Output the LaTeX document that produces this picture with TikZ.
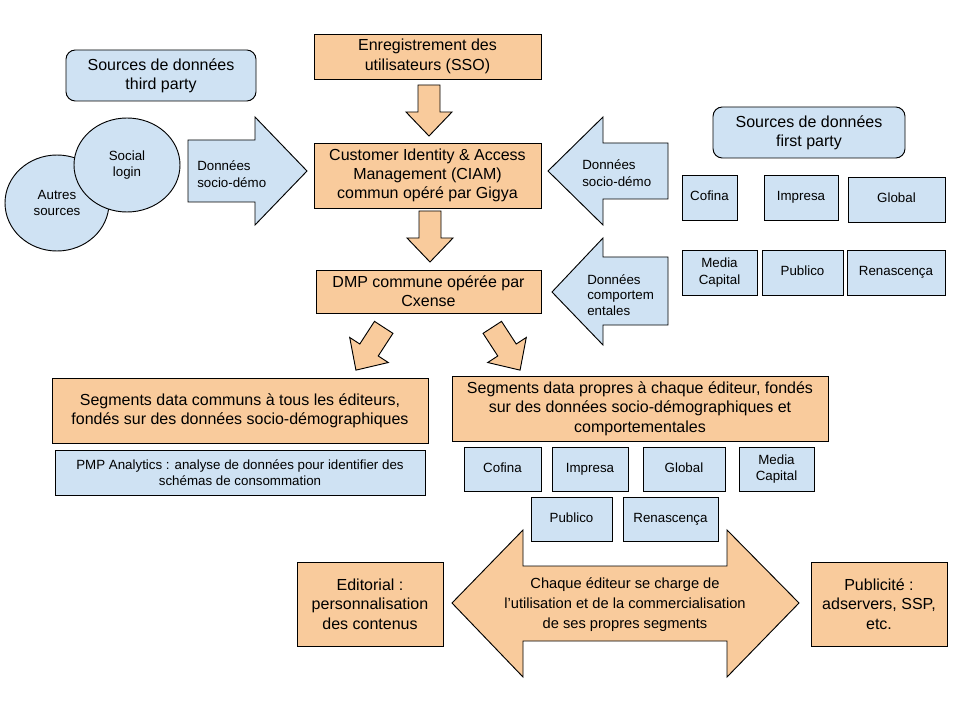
\documentclass[tikz,border=0pt]{standalone}
\usepackage{fontspec}
\setmainfont{Liberation Sans}
\usetikzlibrary{shapes.geometric}
\definecolor{peach}{HTML}{F9CB9C}
\definecolor{paleblue}{HTML}{CFE2F3}
\tikzset{
  edged/.style={draw=black, line width=0.7pt},
  cell/.style={edged, inner sep=0pt, align=center},
  dims/.style 2 args={minimum width=#1*0.75pt, minimum height=#2*0.75pt},
  peachbox/.style={cell, fill=peach, font=\fontsize{12}{14.5}\selectfont},
  bluebox/.style={cell, fill=paleblue, font=\fontsize{10}{12.5}\selectfont},
  oneline/.style={bluebox, text height=7.2pt, text depth=2.1pt},
  roundbox/.style={cell, fill=paleblue, rounded corners=7pt, font=\fontsize{12}{14.5}\selectfont},
  bubble/.style={cell, ellipse, fill=paleblue, font=\fontsize{10}{12.5}\selectfont},
  peacharrow/.style={edged, fill=peach},
  bluearrow/.style={edged, fill=paleblue},
  arrowtext/.style={inner sep=0pt, align=left, anchor=west, font=\fontsize{10}{12.5}\selectfont},
  downarrow/.pic={\draw[peacharrow] (-11,-27) -- (11,-27) -- (11,0) -- (23,0) -- (0,24) -- (-23,0) -- (-11,0) -- cycle;}
}
\begin{document}
\begin{tikzpicture}[x=0.75pt, y=-0.75pt]
  \path[fill=white] (0,0) rectangle (960,720);
  \useasboundingbox (0,0) rectangle (960,720);

  % third party side
  \node[roundbox, dims={190}{51}] (third) at (161,75.5) {Sources de données\\third party};
  \node[bubble, dims={104}{96}] (autres) at (57,203) {Autres\\sources};
  \node[bubble, dims={106}{94}] (social) at (127,165) {Social\\login};
  \draw[bluearrow] (188,140) -- (255,140) -- (255,117) -- (307,171) -- (255,225) -- (255,202) -- (188,202) -- cycle;
  \node[arrowtext] (demoin) at (197,174) {Données\\socio-démo};

  % common chain
  \node[peachbox, dims={227}{45}] (sso) at (427.5,56.5) {Enregistrement des\\utilisateurs (SSO)};
  \node[peachbox, dims={227}{65}] (ciam) at (427.5,175.5) {Customer Identity \& Access\\Management (CIAM)\\commun opéré par Gigya};
  \node[peachbox, dims={225}{43}] (dmp) at (428.5,291.5) {DMP commune opérée par\\Cxense};
  \pic at (429,112) {downarrow};
  \pic at (430,238) {downarrow};

  % first party side
  \node[roundbox, dims={192}{51}] (first) at (809,132.5) {Sources de données\\first party};
  \node[oneline, dims={55}{45}] (fcofina) at (709.5,197.5) {Cofina};
  \node[oneline, dims={74}{45}] (fimpresa) at (801,197.5) {Impresa};
  \node[oneline, dims={97}{45}] (fglobal) at (896.5,199.5) {Global};
  \node[bluebox, dims={75}{45}] (fmedia) at (719.5,272.5) {Media\\Capital};
  \node[oneline, dims={81}{45}] (fpublico) at (802.5,272.5) {Publico};
  \node[oneline, dims={98}{45}] (frenasc) at (896,272.5) {Renascença};
  \draw[bluearrow] (668,143) -- (603,143) -- (603,117) -- (548,171) -- (603,225) -- (603,199) -- (668,199) -- cycle;
  \node[arrowtext] (demoout) at (582,173) {Données\\socio-démo};
  \draw[bluearrow] (668,257) -- (603,257) -- (603,238) -- (552,292) -- (603,345) -- (603,325) -- (668,325) -- cycle;
  \node[arrowtext, font=\fontsize{10}{11.5}\selectfont] (comport) at (587,295) {Données\\comportem\\entales};

  % segments
  \pic[rotate=-33] at (369,350) {downarrow};
  \pic[rotate=33] at (507,350) {downarrow};
  \node[peachbox, dims={376}{65}, font=\fontsize{12}{14}\selectfont] (segcommun) at (240,410.5) {Segments data communs à tous les éditeurs,\\fondés sur des données socio-démographiques};
  \node[bluebox, dims={370}{45}, font=\fontsize{10}{11.5}\selectfont] (pmp) at (240,472.5) {PMP Analytics : analyse de données pour identifier des\\schémas de consommation};
  \node[peachbox, dims={376}{65}] (segpropre) at (640,408.5) {Segments data propres à chaque éditeur, fondés\\sur des données socio-démographiques et\\comportementales};
  \node[oneline, dims={77}{44}] (scofina) at (502.5,469) {Cofina};
  \node[oneline, dims={76}{44}] (simpresa) at (590,469) {Impresa};
  \node[oneline, dims={82}{44}] (sglobal) at (684,469) {Global};
  \node[bluebox, dims={75}{44}] (smedia) at (776.5,469) {Media\\Capital};
  \node[oneline, dims={81}{44}] (spublico) at (571.5,519) {Publico};
  \node[oneline, dims={95}{44}] (srenasc) at (670.5,519) {Renascença};

  % usage
  \draw[peacharrow] (452,603) -- (523,530) -- (523,566) -- (727,566) -- (727,530) -- (799,603) -- (727,677) -- (727,641) -- (523,641) -- (523,677) -- cycle;
  \node[inner sep=0pt, align=center, font=\fontsize{11}{15}\selectfont] (usage) at (625,605) {Chaque éditeur se charge de\\l’utilisation et de la commercialisation\\de ses propres segments};
  \node[peachbox, dims={146}{84}] (edito) at (370,604) {Editorial :\\personnalisation\\des contenus};
  \node[peachbox, dims={136}{84}] (pub) at (879,604) {Publicité :\\adservers, SSP,\\etc.};
\end{tikzpicture}
\end{document}
